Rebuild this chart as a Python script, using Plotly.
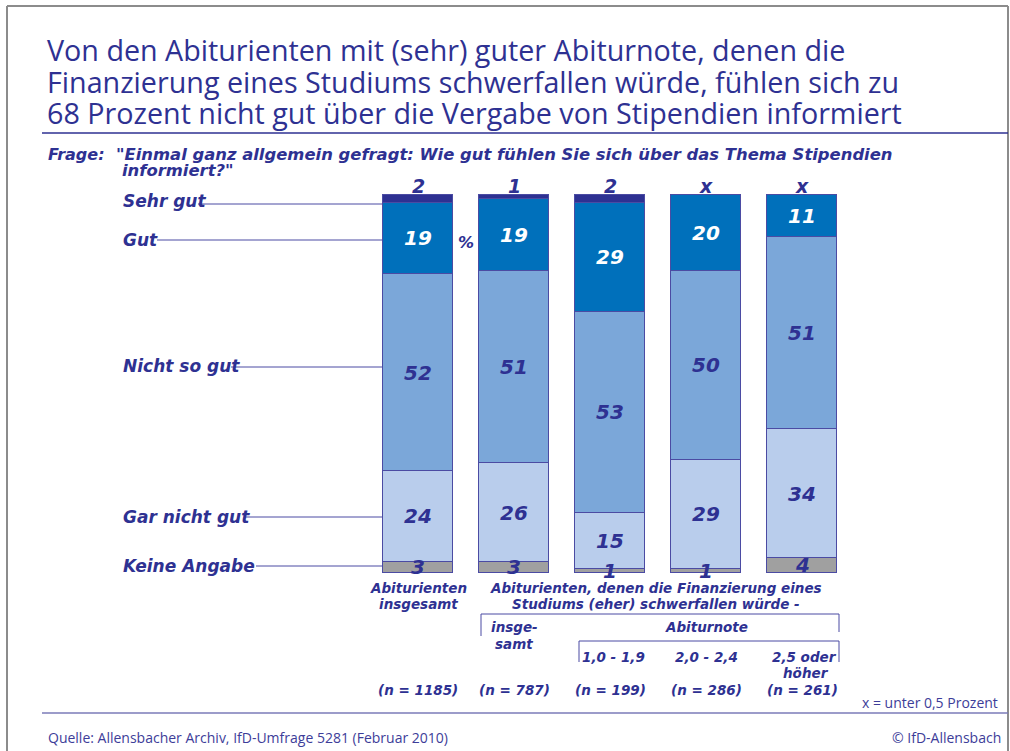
import plotly.graph_objects as go

# ---------------- data ----------------
categories = ["Abiturienten insgesamt", "schwerfallen insgesamt", "1,0 - 1,9", "2,0 - 2,4", "2,5 oder höher"]
sehr_gut = [2, 1, 2, 0, 0]
sehr_gut_labels = ["2", "1", "2", "x", "x"]
gut = [19, 19, 29, 20, 11]
nicht_so_gut = [52, 51, 53, 50, 51]
gar_nicht_gut = [24, 26, 15, 29, 34]
keine_angabe = [3, 3, 1, 1, 4]
n_labels = ["(n = 1185)", "(n = 787)", "(n = 199)", "(n = 286)", "(n = 261)"]
row_labels = ["Sehr gut", "Gut", "Nicht so gut", "Gar nicht gut", "Keine Angabe"]

# ---------------- style ----------------
W, H = 1010, 751
NAVY = "#2e3192"
SOFT = "#3d3d99"
FRAME = "#8c8c8c"
C_SEHR = "#2e3192"
C_GUT = "#0070bb"
C_NICHT = "#7ba7d9"
C_GAR = "#b9cdec"
C_KA = "#a0a0a0"
FONT = "Open Sans"
BFONT = "DejaVu Sans"


def px(x):
    return x / W


def py(y):
    return 1 - y / H


x_pos = list(range(len(categories)))

fig = go.Figure()
series = [
    ("Keine Angabe", keine_angabe, C_KA),
    ("Gar nicht gut", gar_nicht_gut, C_GAR),
    ("Nicht so gut", nicht_so_gut, C_NICHT),
    ("Gut", gut, C_GUT),
    ("Sehr gut", sehr_gut, C_SEHR),
]
for name, vals, col in series:
    fig.add_trace(go.Bar(
        x=x_pos, y=vals, name=name, width=0.729,
        marker=dict(color=col, line=dict(color="#4b4ba3", width=1)),
        showlegend=False, hoverinfo="skip",
    ))

ann = []


def bi(size, color=NAVY):
    return dict(family=BFONT, size=size, color=color, weight="bold", style="italic")


# value labels inside bars (data coordinates)
for i in x_pos:
    base = 0.0
    stack = [(keine_angabe[i], NAVY), (gar_nicht_gut[i], NAVY),
             (nicht_so_gut[i], NAVY), (gut[i], "white")]
    for v, col in stack:
        ann.append(dict(x=i, y=base + v / 2, xref="x", yref="y", text=str(v),
                        showarrow=False, font=bi(20, col)))
        base += v
    # Sehr gut label above bar
    ann.append(dict(x=i, y=base + sehr_gut[i], xref="x", yref="y", text=sehr_gut_labels[i],
                    showarrow=False, yanchor="bottom", yshift=-4, font=bi(19)))


def T(x, y, text, font, xanchor="left", yanchor="middle"):
    ann.append(dict(x=px(x), y=py(y), xref="paper", yref="paper", text=text,
                    showarrow=False, xanchor=xanchor, yanchor=yanchor, font=font))


title_font = dict(family=FONT, size=28.7, color=NAVY)
T(45, 50, "Von den Abiturienten mit (sehr) guter Abiturnote, denen die", title_font)
T(45, 81, "Finanzierung eines Studiums schwerfallen würde, fühlen sich zu", title_font)
T(45, 112, "68 Prozent nicht gut über die Vergabe von Stipendien informiert", title_font)

T(46, 155, "Frage:", bi(16))
T(114, 155, "\"Einmal ganz allgemein gefragt: Wie gut fühlen Sie sich über das Thema Stipendien", bi(16.4))
T(120, 170, "informiert?\"", bi(16.4))

row_y = [201, 240, 366, 517, 566]
row_line_start = [198, 157, 231, 245, 256]
row_line_y = [204, 240, 367, 517, 566]
for lbl, y in zip(row_labels, row_y):
    T(121, y, lbl, bi(17))

T(466, 242, "%", bi(16), xanchor="center")

# bottom labels
BS = 13.5
T(418, 588, "Abiturienten", bi(BS), xanchor="center")
T(418, 604, "insgesamt", bi(BS), xanchor="center")
T(656, 588, "Abiturienten, denen die Finanzierung eines", bi(BS), xanchor="center")
T(656, 604, "Studiums (eher) schwerfallen würde -", bi(BS), xanchor="center")
T(514, 627, "insge-", bi(BS), xanchor="center")
T(514, 644, "samt", bi(BS), xanchor="center")
T(706, 627, "Abiturnote", bi(BS), xanchor="center")
T(613, 657, "1,0 - 1,9", bi(BS), xanchor="center")
T(706, 657, "2,0 - 2,4", bi(BS), xanchor="center")
T(839, 657, "2,5 oder", bi(BS), xanchor="right")
T(806, 673, "höher", bi(BS), xanchor="center")
n_x = [418, 514, 610, 706, 802]
for xx, t in zip(n_x, n_labels):
    T(xx, 690, t, bi(BS), xanchor="center")

small = dict(family=FONT, size=14, color=SOFT)
T(1000, 702, "x = unter 0,5 Prozent", small, xanchor="right")
T(46, 737, "Quelle: Allensbacher Archiv, IfD-Umfrage 5281 (Februar 2010)", small)
T(1003, 737, "© IfD-Allensbach", small, xanchor="right")

shapes = []


def L(x0, y0, x1, y1, color, width=1):
    shapes.append(dict(type="line", xref="paper", yref="paper",
                       x0=px(x0), y0=py(y0), x1=px(x1), y1=py(y1),
                       line=dict(color=color, width=width)))


# frame
L(7, 6, 1008, 6, FRAME, 2)
L(7, 6, 7, 760, FRAME, 2)
L(1008, 6, 1008, 760, FRAME, 2)
# title underline / footer line
L(42, 133, 1008, 133, NAVY, 1.5)
L(42, 713, 1008, 713, "#7b7bb9", 1.5)
# leader lines
for x0, y in zip(row_line_start, row_line_y):
    L(x0, y, 383, y, "#4b4ba3", 1)
# brackets
L(481, 614, 839, 614, "#4b4ba3", 1)
L(481, 614, 481, 636, "#4b4ba3", 1)
L(839, 614, 839, 632, "#4b4ba3", 1)
L(579, 641, 839, 641, "#4b4ba3", 1)
L(579, 641, 579, 662, "#4b4ba3", 1)
L(839, 641, 839, 662, "#4b4ba3", 1)

# scale: 96 px per category, 3.78 px per percent
x_scale = 96.0
x0 = -418 / x_scale
x1 = x0 + W / x_scale
y_scale = 3.78
y1 = 100 + 195 / y_scale
y0 = y1 - H / y_scale

fig.update_layout(
    width=W, height=H,
    margin=dict(l=0, r=0, t=0, b=0),
    paper_bgcolor="white", plot_bgcolor="white",
    barmode="stack", bargap=0,
    xaxis=dict(range=[x0, x1], visible=False, fixedrange=True),
    yaxis=dict(range=[y0, y1], visible=False, fixedrange=True),
    annotations=ann, shapes=shapes,
    font=dict(family=FONT),
)

fig.write_html("out.html", config={"displayModeBar": False},
               post_script="document.body.style.margin='0';document.body.style.overflow='hidden';")
